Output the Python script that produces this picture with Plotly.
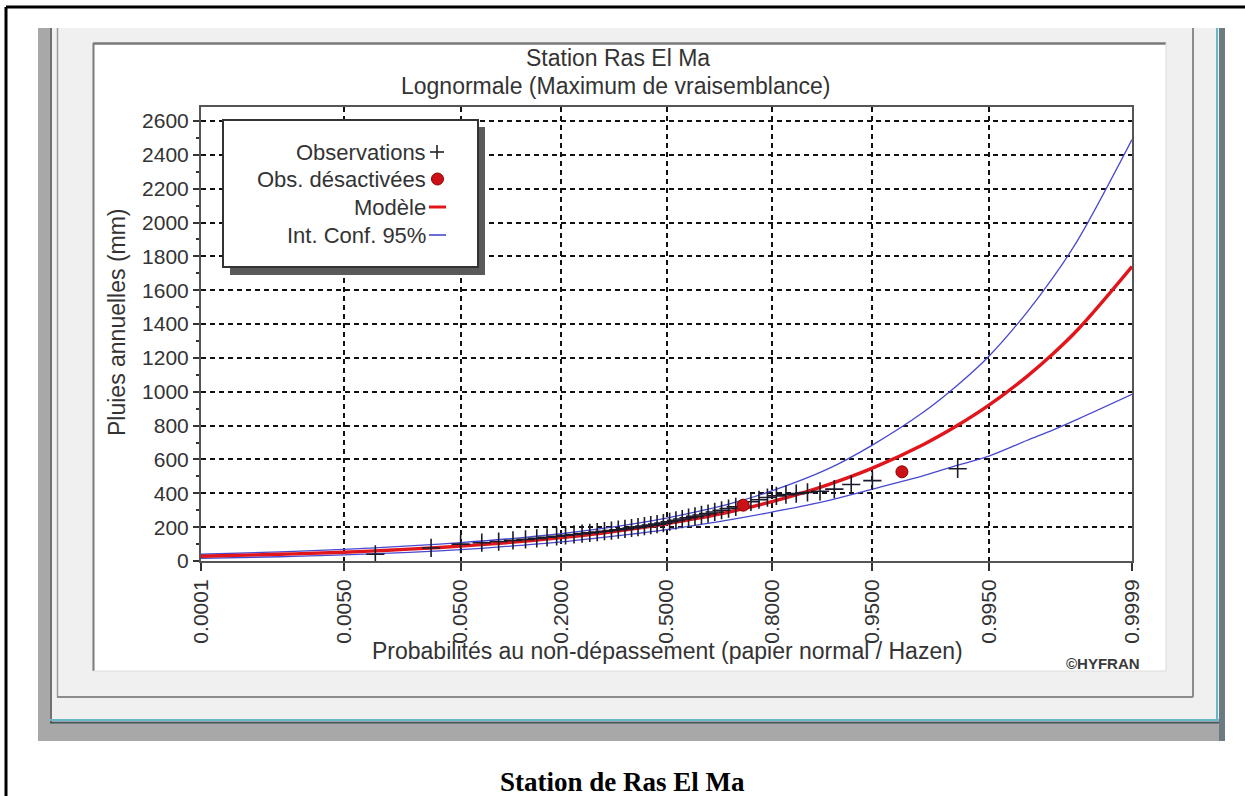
import math
import plotly.graph_objects as go

# ---------------- data ----------------
prob_ticks = [0.0001, 0.005, 0.05, 0.2, 0.5, 0.8, 0.95, 0.995, 0.9999]
prob_tick_labels = ["0.0001", "0.0050", "0.0500", "0.2000", "0.5000",
                    "0.8000", "0.9500", "0.9950", "0.9999"]

curve_probs = [0.0001, 0.001, 0.005, 0.01, 0.02, 0.05, 0.1, 0.2, 0.3, 0.4, 0.5,
               0.6, 0.7, 0.8, 0.9, 0.95, 0.98, 0.99, 0.995, 0.998, 0.999, 0.9995, 0.9999]
model_mm = [28, 40, 52, 60, 70, 88, 108, 138, 164, 191, 220,
            253, 294, 351, 449, 549, 689, 802, 921, 1090, 1226, 1371, 1740]
ci_upper_mm = [40, 54, 69, 78, 89, 109, 130, 162, 191, 221, 254,
               293, 342, 414, 541, 685, 880, 1040, 1210, 1468, 1677, 1902, 2490]
ci_lower_mm = [16, 25, 36, 43, 51, 67, 86, 113, 138, 161, 186,
               214, 246, 289, 356, 425, 505, 566, 620, 712, 775, 840, 985]

obs_probs = [0.01, 0.03, 0.05, 0.07, 0.09, 0.11, 0.13, 0.15, 0.17, 0.19,
             0.21, 0.23, 0.25, 0.27, 0.29, 0.31, 0.33, 0.35, 0.37, 0.39,
             0.41, 0.43, 0.45, 0.47, 0.49, 0.51, 0.53, 0.55, 0.57, 0.59,
             0.61, 0.63, 0.65, 0.67, 0.69, 0.71, 0.75, 0.77, 0.79, 0.81,
             0.83, 0.85, 0.87, 0.89, 0.91, 0.93, 0.95, 0.99]
obs_mm = [40, 77, 100, 108, 115, 122, 128, 134, 140, 146,
          152, 157, 162, 166, 171, 176, 180, 185, 190, 195,
          200, 206, 212, 218, 224, 232, 240, 248, 256, 264,
          272, 280, 290, 300, 310, 320, 350, 362, 375, 385,
          392, 398, 405, 412, 425, 452, 475, 545]

off_probs = [0.73, 0.97]
off_mm = [330, 527]

legend_labels = ["Observations", "Obs. désactivées", "Modèle", "Int. Conf. 95%"]


# ---------------- normal-probability scale ----------------
def norm_ppf(p):
    a = [-3.969683028665376e+01, 2.209460984245205e+02, -2.759285104469687e+02,
         1.383577518672690e+02, -3.066479806614716e+01, 2.506628277459239e+00]
    b = [-5.447609879822406e+01, 1.615858368580409e+02, -1.556989798598866e+02,
         6.680131188771972e+01, -1.328068155288572e+01]
    c = [-7.784894002430293e-03, -3.223964580411365e-01, -2.400758277161838e+00,
         -2.549671667414040e+00, 4.374664141464968e+00, 2.938163982698783e+00]
    d = [7.784695709041462e-03, 3.224671290700398e-01, 2.445134137142996e+00,
         3.754408661907416e+00]
    plow = 0.02425
    if p < plow:
        q = math.sqrt(-2 * math.log(p))
        return (((((c[0]*q+c[1])*q+c[2])*q+c[3])*q+c[4])*q+c[5]) / \
               ((((d[0]*q+d[1])*q+d[2])*q+d[3])*q+1)
    if p > 1 - plow:
        q = math.sqrt(-2 * math.log(1 - p))
        return -(((((c[0]*q+c[1])*q+c[2])*q+c[3])*q+c[4])*q+c[5]) / \
               ((((d[0]*q+d[1])*q+d[2])*q+d[3])*q+1)
    q = p - 0.5
    r = q * q
    return (((((a[0]*r+a[1])*r+a[2])*r+a[3])*r+a[4])*r+a[5])*q / \
           (((((b[0]*r+b[1])*r+b[2])*r+b[3])*r+b[4])*r+1)


def zs(ps):
    return [norm_ppf(p) for p in ps]


# ---------------- geometry helpers ----------------
W, H = 1245, 796
L, R, T, B = 201, 113, 107, 235
PW, PH = W - L - R, H - T - B


def px(x):
    return (x - L) / PW


def py(y):
    return (H - B - y) / PH


RED = "#e0161c"
BLUE = "#4848d0"
TXT = "#333333"
FONT = "Liberation Sans, Arial, sans-serif"

fig = go.Figure()

fig.add_trace(go.Scatter(x=zs(curve_probs), y=ci_upper_mm, mode="lines",
                         line=dict(color=BLUE, width=1.3, shape="spline"),
                         showlegend=False, hoverinfo="skip"))
fig.add_trace(go.Scatter(x=zs(curve_probs), y=ci_lower_mm, mode="lines",
                         line=dict(color=BLUE, width=1.3, shape="spline"),
                         showlegend=False, hoverinfo="skip"))
fig.add_trace(go.Scatter(x=zs(curve_probs), y=model_mm, mode="lines",
                         line=dict(color=RED, width=3.4, shape="spline"),
                         showlegend=False))
fig.add_trace(go.Scatter(x=zs(obs_probs), y=obs_mm, mode="markers",
                         marker=dict(symbol="cross-thin", size=13,
                                     line=dict(color="#1a1a2a", width=1.6)),
                         showlegend=False))
fig.add_trace(go.Scatter(x=zs(off_probs), y=off_mm, mode="markers",
                         marker=dict(symbol="circle", size=12, color="#cc1018",
                                     line=dict(color="#8a0000", width=1)),
                         showlegend=False))

shapes = []


def rect(x0, y0, x1, y1, fill, layer="below", line=None):
    shapes.append(dict(type="rect", xref="paper", yref="paper",
                       x0=px(x0), x1=px(x1), y0=py(y1), y1=py(y0),
                       fillcolor=fill, line=line or dict(width=0), layer=layer))


def seg(x0, y0, x1, y1, color, width, layer="below"):
    shapes.append(dict(type="line", xref="paper", yref="paper",
                       x0=px(x0), x1=px(x1), y0=py(y0), y1=py(y1),
                       line=dict(color=color, width=width), layer=layer))


# document frame
seg(6, 7, 1245, 7, "#000000", 3)
seg(6, 7, 6, 796, "#000000", 3)
# screenshot window
rect(38, 28, 1225, 741, "#f0f0f0")
rect(38, 28, 50, 741, "#a8a8a8")
seg(51, 28, 51, 723, "#707070", 2)
seg(57.5, 28, 57.5, 697, "#9a9a9a", 1.5)
rect(38, 723, 1225, 741, "#a8a8a8")
seg(50, 720, 1219, 720, "#66b8c8", 2)
seg(50, 722.5, 1219, 722.5, "#44555c", 2)
seg(1193, 28, 1193, 697, "#8c8c8c", 2)
seg(57, 697, 1193, 697, "#8c8c8c", 2)
seg(1217, 28, 1217, 721, "#66b8c8", 2)
rect(1219, 28, 1225, 741, "#6c7a82")
# white chart panel
rect(93, 43, 1166, 671, "#ffffff")
seg(93, 43.5, 1166, 43.5, "#7a7a7a", 2.5)
seg(93.5, 43, 93.5, 671, "#7a7a7a", 2)
seg(1166, 43, 1166, 671, "#dcdcdc", 1)
seg(93, 671, 1166, 671, "#dcdcdc", 1)

# legend box with shadow
rect(230, 127, 485, 275, "#5a5a5a", layer="above")
rect(223, 120, 478, 267, "#ffffff", layer="above",
     line=dict(color="#333333", width=2))
# legend symbols
seg(430, 152, 444, 152, "#222222", 1.6, layer="above")
seg(437, 145, 437, 159, "#222222", 1.6, layer="above")
shapes.append(dict(type="circle", xref="paper", yref="paper",
                   x0=px(431.5), x1=px(443.5), y0=py(185), y1=py(173),
                   fillcolor="#cc1018", line=dict(color="#8a0000", width=1),
                   layer="above"))
seg(429, 207, 446, 207, RED, 3, layer="above")
seg(429, 235, 446, 235, BLUE, 1.6, layer="above")

annotations = []


def text(x, y, s, size, color=TXT, xanchor="center", family=FONT, angle=0):
    annotations.append(dict(x=px(x), y=py(y), xref="paper", yref="paper",
                            text=s, showarrow=False, xanchor=xanchor,
                            yanchor="middle", textangle=angle,
                            font=dict(size=size, color=color, family=family)))


text(618, 58, "Station Ras El Ma", 23)
text(616, 86, "Lognormale (Maximum de vraisemblance)", 23)
text(117, 322, "Pluies annuelles (mm)", 23, angle=-90)
text(667, 651, "Probabilités au non-dépassement (papier normal / Hazen)", 23)
text(1103, 663, "<b>©HYFRAN</b>", 15, color="#3a3a3a")
text(622, 782, "<b>Station de Ras El Ma</b>", 27, color="#000000",
     family="Liberation Serif, Times New Roman, serif")
for lab, yy in zip(legend_labels, [152, 179, 207, 235]):
    text(428, yy, lab, 22, xanchor="right")

fig.update_layout(
    width=W, height=H,
    margin=dict(l=L, r=R, t=T, b=B, pad=0),
    paper_bgcolor="#ffffff", plot_bgcolor="#ffffff",
    showlegend=False,
    shapes=shapes, annotations=annotations,
    font=dict(family=FONT, color=TXT),
    xaxis=dict(range=[norm_ppf(0.0001), norm_ppf(0.9999)],
               tickmode="array", tickvals=zs(prob_ticks), ticktext=prob_tick_labels,
               tickangle=-90, tickfont=dict(size=21, color=TXT, family=FONT),
               showgrid=True, gridcolor="#111111", griddash="5px,4px", gridwidth=1.6,
               showline=True, linecolor="#555555", linewidth=2, mirror=True,
               ticks="outside", ticklen=8, tickwidth=1.5, tickcolor="#333333",
               zeroline=False, fixedrange=True),
    yaxis=dict(range=[0, 2683], tickmode="linear", tick0=0, dtick=200,
               tickfont=dict(size=21, color=TXT, family=FONT),
               showgrid=True, gridcolor="#111111", griddash="5px,4px", gridwidth=1.6,
               showline=True, linecolor="#555555", linewidth=2, mirror=True,
               ticks="outside", ticklen=6, tickwidth=1.5, tickcolor="#333333",
               minor=dict(dtick=100, ticks="outside", ticklen=3, tickcolor="#333333",
                          showgrid=False),
               zeroline=False, fixedrange=True),
)

fig.write_html("out.html")
